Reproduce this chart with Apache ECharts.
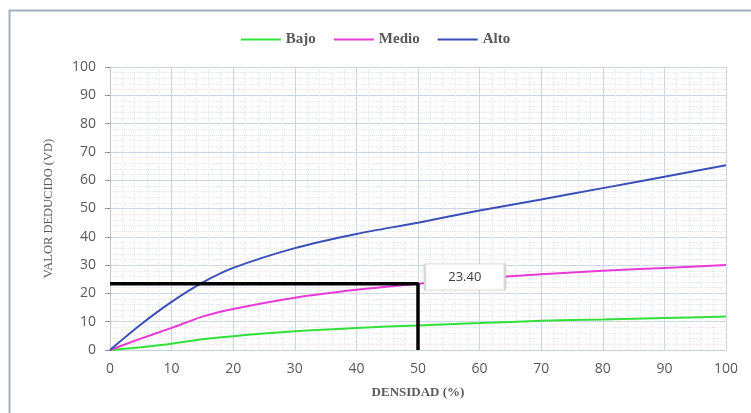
<!DOCTYPE html>
<html>
<head>
<meta charset="utf-8">
<script src="https://cdn.jsdelivr.net/npm/echarts@6/dist/echarts.min.js"></script>
<style>html,body{margin:0;padding:0;background:#fff}#c{width:751px;height:413px}</style>
</head>
<body>
<div id="c"></div>
<script>
var densidad = [0, 5, 10, 15, 20, 30, 40, 50, 60, 70, 80, 90, 100];
var bajo  = [0, 1.0, 2.2, 3.8, 4.9, 6.6, 7.8, 8.7, 9.5, 10.3, 10.8, 11.3, 11.8];
var medio = [0, 4.0, 7.8, 11.8, 14.5, 18.5, 21.3, 23.4, 25.3, 26.8, 28.0, 29.0, 30.0];
var alto  = [0, 9.0, 17.0, 23.8, 29.0, 36.0, 41.0, 45.0, 49.3, 53.2, 57.2, 61.2, 65.3];
var seriesNames = ['Bajo', 'Medio', 'Alto'];
var guideX = 50, guideY = 23.4;
var guideLabel = '23.40';
var xTicks = [0, 100, 10];
var yTicks = [0, 100, 10];

function pairs(vals){ return densidad.map(function(x,i){ return [x, vals[i]]; }); }

var chart = echarts.init(document.getElementById('c'));
var tickFont = {color:'#595959', fontFamily:'Open Sans', fontSize:14};
chart.setOption({
  animation:false,
  backgroundColor:'#fff',
  graphic:[{type:'rect', shape:{x:9.5, y:10.5, width:800, height:500}, style:{fill:'none', stroke:'#a4afc0', lineWidth:2}}],
  legend:{top:27, left:'center', icon:'rect', itemWidth:40, itemHeight:2, itemGap:18,
    textStyle:{fontFamily:'Liberation Serif', fontWeight:'bold', fontSize:15, color:'#595959'},
    data:seriesNames},
  grid:{left:110, right:25, top:67, bottom:63},
  xAxis:{type:'value', min:xTicks[0], max:xTicks[1], interval:xTicks[2],
    name:'DENSIDAD (%)', nameLocation:'middle', nameGap:36,
    nameTextStyle:{fontFamily:'Liberation Serif', fontWeight:'bold', fontSize:13, color:'#595959'},
    axisLine:{lineStyle:{color:'#c8d0dc'}}, axisTick:{show:false},
    axisLabel:Object.assign({margin:12}, tickFont),
    splitLine:{show:true, lineStyle:{color:'#cdd6e4', width:1}},
    minorTick:{show:false, splitNumber:5},
    minorSplitLine:{show:true, lineStyle:{color:'#e2e7f0', type:'dotted'}}},
  yAxis:{type:'value', min:yTicks[0], max:yTicks[1], interval:yTicks[2],
    name:'VALOR DEDUCIDO (VD)', nameLocation:'middle', nameGap:55,
    nameTextStyle:{fontFamily:'Liberation Serif', fontSize:12.5, color:'#595959'},
    axisLine:{show:true, lineStyle:{color:'#b8c2d2'}},
    axisTick:{show:true, length:5, lineStyle:{color:'#8a96a8'}},
    axisLabel:Object.assign({margin:14}, tickFont),
    splitLine:{show:true, lineStyle:{color:'#cdd6e4', width:1}},
    minorTick:{show:false, splitNumber:5},
    minorSplitLine:{show:true, lineStyle:{color:'#e2e7f0', type:'dotted'}}},
  series:[
    {name:seriesNames[0], type:'line', smooth:0.3, symbol:'none', data:pairs(bajo), lineStyle:{color:'#33e03a', width:2}, itemStyle:{color:'#33e03a'}, z:3},
    {name:seriesNames[1], type:'line', smooth:0.3, symbol:'none', data:pairs(medio), lineStyle:{color:'#e83ad6', width:2}, itemStyle:{color:'#e83ad6'}, z:3},
    {name:seriesNames[2], type:'line', smooth:0.3, symbol:'none', data:pairs(alto), lineStyle:{color:'#3a4fb8', width:2}, itemStyle:{color:'#3a4fb8'}, z:3},
    {name:'guia', type:'line', symbol:'none', data:[[0,guideY],[guideX,guideY],[guideX,0]],
      lineStyle:{color:'#000', width:3.5}, z:4, silent:true,
      markPoint:{symbol:'rect', symbolSize:[80,26], silent:true,
        itemStyle:{color:'#fff', borderColor:'#d4d4d4', borderWidth:1, shadowColor:'rgba(0,0,0,0.15)', shadowBlur:3},
        label:{show:true, formatter:guideLabel, color:'#404040', fontFamily:'Open Sans', fontSize:13},
        data:[{coord:[57.6, 25.8]}]}}
  ]
});
</script>
</body>
</html>
